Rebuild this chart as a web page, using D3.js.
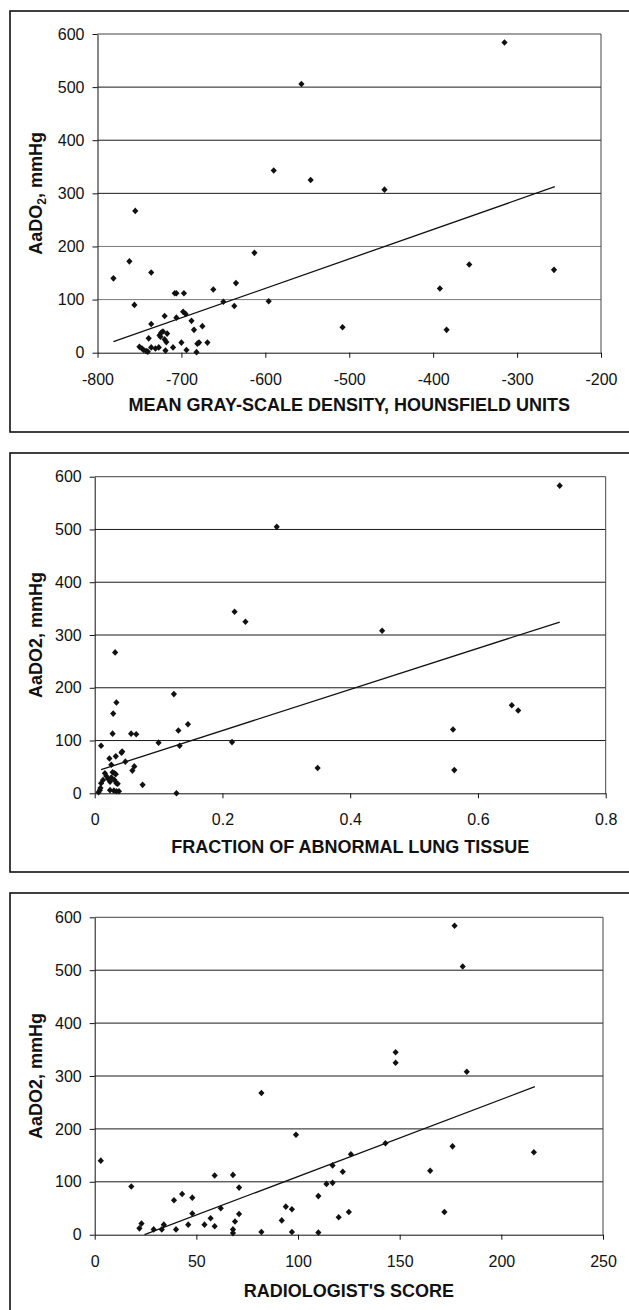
<!DOCTYPE html>
<html>
<head>
<meta charset="utf-8">
<script src="https://cdn.jsdelivr.net/npm/d3@7"></script>
<style>
  body { margin: 0; background: #fff; }
  svg { display: block; }
  text { font-family: "Liberation Sans", Arial, sans-serif; fill: #111; }
  .tick-label { font-size: 16px; }
  .axis-title { font-size: 18px; font-weight: bold; }
</style>
</head>
<body>
<svg id="chart" width="629" height="1310"></svg>
<script>
// AaDO2 (mmHg) against mean gray-scale density (HU)
var density_pts = [
    [-781,140],[-762,172],[-755,267],[-756,90],[-736,151],[-736,54],[-739,27],
    [-750,11],[-747,8],[-745,5],[-742,3],[-740,2],[-736,10],[-731,8],[-727,10],
    [-726,33],[-724,38],[-722,40],[-725,30],[-720,69],[-719,4],[-720,25],[-718,20],
    [-717,36],[-710,10],[-708,112],[-706,112],[-706,66],[-700,19],[-697,112],
    [-698,77],[-695,73],[-694,5],[-688,60],[-685,43],[-682,1],[-681,17],[-679,19],
    [-675,50],[-669,19],[-662,119],[-650,96],[-637,88],[-635,131],[-613,188],
    [-596,97],[-590,343],[-557,506],[-546,325],[-508,48],[-458,307],[-392,121],
    [-384,43],[-357,166],[-315,584],[-256,156]
];
var density_fit = [[-781,20.7],[-255,312.5]];
var density_ticks = [-800,-700,-600,-500,-400,-300,-200];

// AaDO2 against fraction of abnormal lung tissue
var fraction_pts = [
    [0.010,90],[0.032,267],[0.029,151],[0.034,172],[0.028,113],[0.057,113],[0.065,112],
    [0.023,66],[0.033,70],[0.042,77],[0.043,79],[0.048,60],[0.026,54],[0.059,43],
    [0.062,51],[0.075,16],[0.100,96],[0.124,188],[0.131,119],[0.133,90],[0.128,0],
    [0.146,131],[0.215,97],[0.219,344],[0.236,325],[0.285,505],[0.349,48],[0.450,308],
    [0.561,121],[0.563,44],[0.653,167],[0.663,157],[0.728,583],
    [0.006,2],[0.008,6],[0.009,10],[0.010,19],[0.013,25],[0.016,38],[0.018,33],
    [0.021,27],[0.024,22],[0.026,30],[0.028,40],[0.031,38],[0.033,36],[0.031,25],
    [0.034,19],[0.036,18],[0.030,5],[0.034,4],[0.038,4],[0.024,6]
];
var fraction_fit = [[0.010,44.8],[0.728,324.6]];
var fraction_ticks = [0,0.2,0.4,0.6,0.8];

// AaDO2 against radiologist's score
var score_pts = [
    [3,140],[18,91],[22,12],[23,21],[29,10],[33,10],[34,19],[39,65],[40,10],
    [43,77],[46,19],[48,70],[48,40],[54,19],[57,31],[59,112],[59,16],[62,50],
    [68,113],[68,10],[68,3],[69,25],[71,89],[71,39],[82,268],[82,5],[92,27],
    [94,53],[97,48],[97,5],[99,189],[110,73],[110,4],[114,96],[117,98],[117,131],
    [120,33],[122,119],[125,43],[126,152],[143,173],[148,345],[148,325],[165,121],
    [172,43],[176,167],[177,584],[181,507],[183,308],[216,156]
];
var score_fit = [[24.5,0],[216.5,279.8]];
var score_ticks = [0,50,100,150,200,250];

var y_ticks = [0,100,200,300,400,500,600];

var svg = d3.select("#chart");

function drawPanel(p){
    var g = svg.append("g");

    // outer frame
    g.append("rect")
        .attr("x", 10).attr("y", p.boxTop)
        .attr("width", 640).attr("height", p.boxH)
        .attr("fill", "none").attr("stroke", "#111").attr("stroke-width", 1.6);

    var x = d3.scaleLinear().domain(p.xDomain).range([p.left, p.right]);
    var y = d3.scaleLinear().domain([0, 600]).range([p.y0, p.y600]);

    // gridlines (the lower ones print lighter on the first panel)
    g.selectAll(".grid").data(y_ticks.slice(1, -1)).enter()
        .append("line")
        .attr("x1", p.left).attr("x2", p.right)
        .attr("y1", d => y(d)).attr("y2", d => y(d))
        .attr("stroke", d => (p.lightLow && d <= 200) ? "#7a7a7a" : "#1a1a1a")
        .attr("stroke-width", 1);

    // plot area border (top + right)
    g.append("path")
        .attr("d", "M" + p.left + "," + y(600) + "H" + p.right + "V" + y(0))
        .attr("fill", "none").attr("stroke", "#444").attr("stroke-width", 1);

    var xAxis = d3.axisBottom(x).tickValues(p.xTicks).tickSize(5).tickSizeOuter(0)
        .tickFormat(p.xFormat);
    var gx = g.append("g").attr("transform", "translate(0," + y(0) + ")").call(xAxis);
    gx.select(".domain").attr("stroke", "#111");
    gx.selectAll(".tick line").attr("stroke", "#111");
    gx.selectAll(".tick text").attr("class", "tick-label").attr("dy", null).attr("y", 32)
        .attr("font-family", null).attr("font-size", null);

    var yAxis = d3.axisLeft(y).tickValues(y_ticks).tickSize(5).tickSizeOuter(0);
    var gy = g.append("g").attr("transform", "translate(" + p.left + ",0)").call(yAxis);
    gy.select(".domain").attr("stroke", "#111");
    gy.selectAll(".tick line").attr("stroke", "#111");
    gy.selectAll(".tick text").attr("class", "tick-label").attr("x", -13)
        .attr("font-family", null).attr("font-size", null);

    // fitted line
    g.append("path")
        .datum(p.fit)
        .attr("d", d3.line().x(d => x(d[0])).y(d => y(d[1])))
        .attr("fill", "none").attr("stroke", "#111").attr("stroke-width", 1.3);

    // points as small diamonds
    g.selectAll(".pt").data(p.pts).enter()
        .append("path")
        .attr("d", "M0,-3.3L3.1,0L0,3.3L-3.1,0Z")
        .attr("transform", d => "translate(" + x(d[0]) + "," + y(d[1]) + ")")
        .attr("fill", "#111");

    // axis titles
    g.append("text").attr("class", "axis-title")
        .attr("x", (p.left + p.right) / 2).attr("y", p.xTitleY)
        .attr("text-anchor", "middle").text(p.xTitle);

    var yt = g.append("text").attr("class", "axis-title")
        .attr("transform", "translate(42," + (p.y0 + p.y600) / 2 + ") rotate(-90)")
        .attr("text-anchor", "middle");
    if (p.subscript) {
        yt.append("tspan").text("AaDO");
        yt.append("tspan").attr("font-size", "12px").attr("dy", 4).text("2");
        yt.append("tspan").attr("dy", -4).text(", mmHg");
    } else {
        yt.text("AaDO2, mmHg");
    }
}

drawPanel({
    boxTop: 11, boxH: 421, left: 97.5, right: 601, y600: 34, y0: 352.7,
    xDomain: [-800, -200], xTicks: density_ticks, xFormat: d => String(d),
    pts: density_pts, fit: density_fit, xTitleY: 411, lightLow: true,
    xTitle: "MEAN GRAY-SCALE DENSITY, HOUNSFIELD UNITS", subscript: true
});

drawPanel({
    boxTop: 453, boxH: 419, left: 94.7, right: 605.7, y600: 476.7, y0: 793.3,
    xDomain: [0, 0.8], xTicks: fraction_ticks, xFormat: d => d == 0 ? "0" : d3.format(".1f")(d),
    pts: fraction_pts, fit: fraction_fit, xTitleY: 853,
    xTitle: "FRACTION OF ABNORMAL LUNG TISSUE", subscript: false
});

drawPanel({
    boxTop: 893, boxH: 440, left: 94.7, right: 603, y600: 917.3, y0: 1234.7,
    xDomain: [0, 250], xTicks: score_ticks, xFormat: d => String(d),
    pts: score_pts, fit: score_fit, xTitleY: 1297,
    xTitle: "RADIOLOGIST'S SCORE", subscript: false
});
</script>
</body>
</html>
